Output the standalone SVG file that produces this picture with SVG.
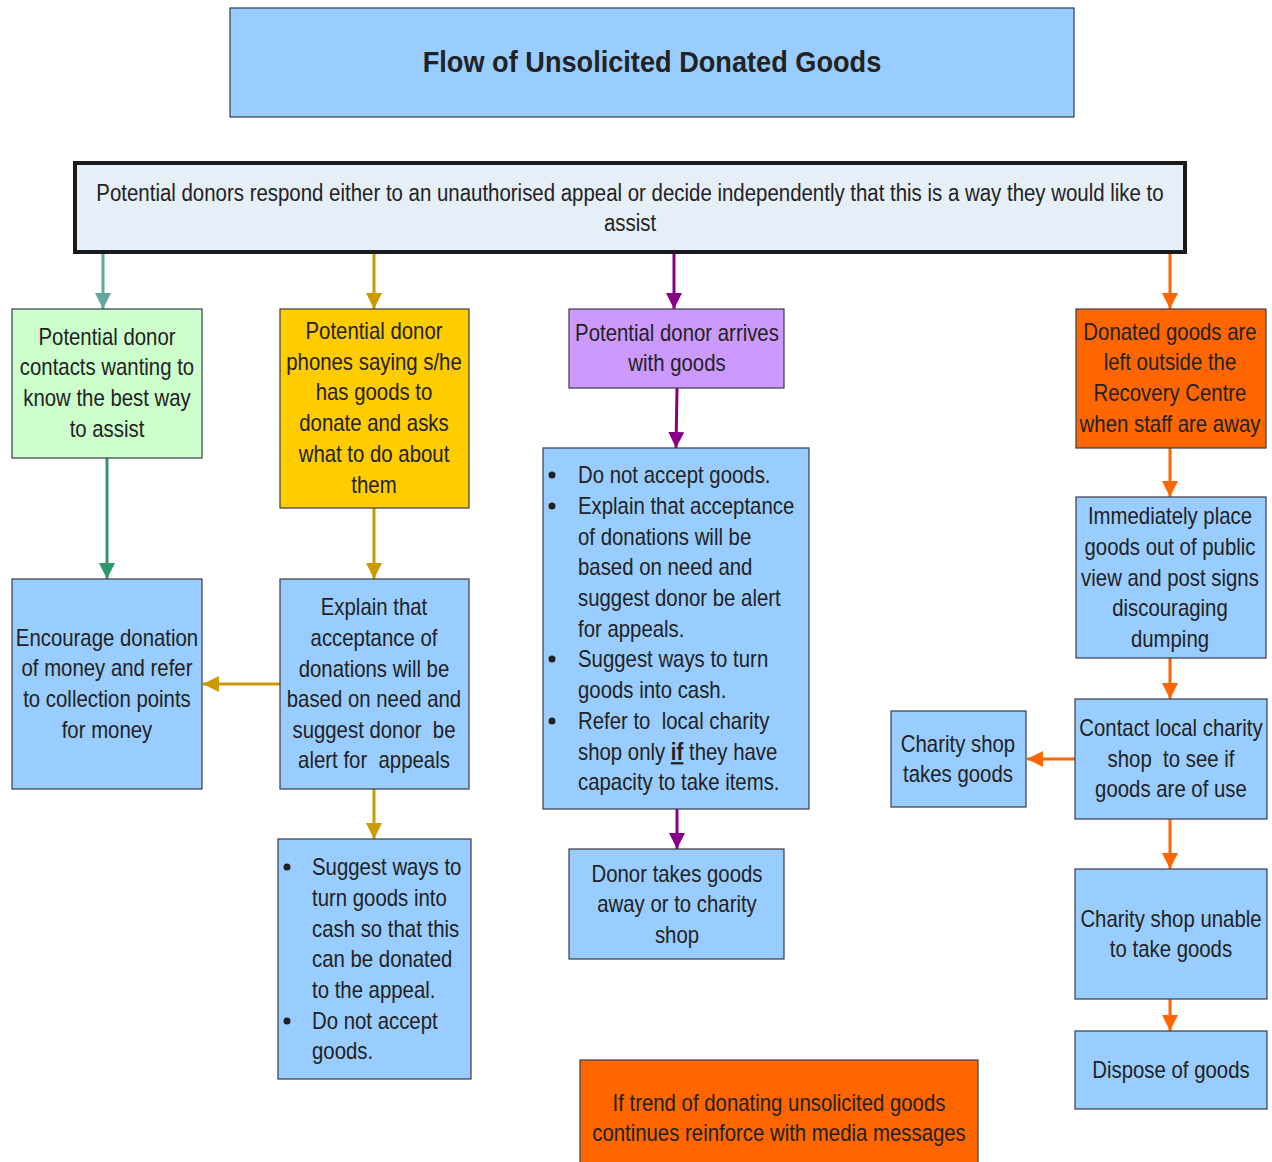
<svg xmlns="http://www.w3.org/2000/svg" width="1272" height="1162" viewBox="0 0 1272 1162">
<defs>
<style>
text{font-family:"Liberation Sans",Arial,sans-serif;font-size:23px;fill:#222;}
.c{text-anchor:middle;}
.box{stroke:#3a3a4a;stroke-width:1.2;}
.blue{fill:#99ccff;}
.ln{fill:none;stroke-width:3;}
</style>
<marker id="mTeal" viewBox="0 0 10 10" refX="10" refY="5" markerWidth="16" markerHeight="16" markerUnits="userSpaceOnUse" orient="auto"><path d="M0,0 L10,5 L0,10 z" fill="#5fa89a"/></marker>
<marker id="mGreen" viewBox="0 0 10 10" refX="10" refY="5" markerWidth="16" markerHeight="16" markerUnits="userSpaceOnUse" orient="auto"><path d="M0,0 L10,5 L0,10 z" fill="#2e9a6a"/></marker>
<marker id="mGold" viewBox="0 0 10 10" refX="10" refY="5" markerWidth="16" markerHeight="16" markerUnits="userSpaceOnUse" orient="auto"><path d="M0,0 L10,5 L0,10 z" fill="#cc9900"/></marker>
<marker id="mPurp" viewBox="0 0 10 10" refX="10" refY="5" markerWidth="16" markerHeight="16" markerUnits="userSpaceOnUse" orient="auto"><path d="M0,0 L10,5 L0,10 z" fill="#880088"/></marker>
<marker id="mOr" viewBox="0 0 10 10" refX="10" refY="5" markerWidth="16" markerHeight="16" markerUnits="userSpaceOnUse" orient="auto"><path d="M0,0 L10,5 L0,10 z" fill="#ff6600"/></marker>
</defs>
<rect width="1272" height="1162" fill="#ffffff"/>

<g id="connectors">
<line class="ln" x1="103" y1="252" x2="103" y2="309" stroke="#5fa89a" marker-end="url(#mTeal)"/>
<line class="ln" x1="374" y1="252" x2="374" y2="309" stroke="#cc9900" marker-end="url(#mGold)"/>
<line class="ln" x1="674" y1="252" x2="674" y2="309" stroke="#880088" marker-end="url(#mPurp)"/>
<line class="ln" x1="1170" y1="252" x2="1170" y2="309" stroke="#ff6600" marker-end="url(#mOr)"/>
<line class="ln" x1="107" y1="458" x2="107" y2="579" stroke="#2e9a6a" marker-end="url(#mGreen)"/>
<line class="ln" x1="374" y1="508" x2="374" y2="579" stroke="#cc9900" marker-end="url(#mGold)"/>
<line class="ln" x1="280" y1="684" x2="203" y2="684" stroke="#cc9900" stroke-width="4" marker-end="url(#mGold)"/>
<line class="ln" x1="374" y1="789" x2="374" y2="839" stroke="#cc9900" marker-end="url(#mGold)"/>
<line class="ln" x1="677" y1="388" x2="676" y2="448" stroke="#880088" marker-end="url(#mPurp)"/>
<line class="ln" x1="677" y1="809" x2="677" y2="849" stroke="#880088" marker-end="url(#mPurp)"/>
<line class="ln" x1="1170" y1="448" x2="1170" y2="497" stroke="#ff6600" marker-end="url(#mOr)"/>
<line class="ln" x1="1170" y1="658" x2="1170" y2="699" stroke="#ff6600" marker-end="url(#mOr)"/>
<line class="ln" x1="1075" y1="759" x2="1027" y2="759" stroke="#ff6600" stroke-width="4" marker-end="url(#mOr)"/>
<line class="ln" x1="1170" y1="819" x2="1170" y2="869" stroke="#ff6600" marker-end="url(#mOr)"/>
<line class="ln" x1="1170" y1="999" x2="1170" y2="1031" stroke="#ff6600" marker-end="url(#mOr)"/>
</g>

<g id="title">
<rect class="box blue" x="230" y="8" width="844" height="109" stroke="#666"/>
<g transform="translate(652 0) scale(0.905 1) translate(-652 0)">
<text class="c" x="652" y="72" style="font-size:30px;font-weight:bold">Flow of Unsolicited Donated Goods</text>
</g>
</g>

<g id="top">
<rect x="75" y="163" width="1110" height="89" fill="#e6eef8" stroke="#1a1a1a" stroke-width="4"/>
<g transform="translate(630 0) scale(0.888 1) translate(-630 0)">
<text class="c" x="630" y="201">Potential donors respond either to an unauthorised appeal or decide independently that this is a way they would like to</text>
<text class="c" x="630" y="231">assist</text>
</g>
</g>

<g id="green">
<rect class="box" x="12" y="309" width="190" height="149" fill="#ccffcc"/>
<g transform="translate(107 0) scale(0.886 1) translate(-107 0)">
<text class="c" x="107" y="345">Potential donor</text>
<text class="c" x="107" y="375">contacts wanting to</text>
<text class="c" x="107" y="406">know the best way</text>
<text class="c" x="107" y="437">to assist</text>
</g>
</g>

<g id="yellow">
<rect class="box" x="280" y="309" width="189" height="199" fill="#ffcc00"/>
<g transform="translate(374 0) scale(0.886 1) translate(-374 0)">
<text class="c" x="374" y="339">Potential donor</text>
<text class="c" x="374" y="370">phones saying s/he</text>
<text class="c" x="374" y="400">has goods to</text>
<text class="c" x="374" y="431">donate and asks</text>
<text class="c" x="374" y="462">what to do about</text>
<text class="c" x="374" y="493">them</text>
</g>
</g>

<g id="purple">
<rect class="box" x="569" y="309" width="215" height="79" fill="#cc99ff"/>
<g transform="translate(677 0) scale(0.886 1) translate(-677 0)">
<text class="c" x="677" y="341">Potential donor arrives</text>
<text class="c" x="677" y="371">with goods</text>
</g>
</g>

<g id="orange">
<rect class="box" x="1076" y="309" width="190" height="139" fill="#ff6600"/>
<g transform="translate(1170 0) scale(0.886 1) translate(-1170 0)">
<text class="c" x="1170" y="340">Donated goods are</text>
<text class="c" x="1170" y="370">left outside the</text>
<text class="c" x="1170" y="401">Recovery Centre</text>
<text class="c" x="1170" y="432">when staff are away</text>
</g>
</g>

<g id="encourage">
<rect class="box blue" x="12" y="579" width="190" height="210"/>
<g transform="translate(107 0) scale(0.886 1) translate(-107 0)">
<text class="c" x="107" y="646">Encourage donation</text>
<text class="c" x="107" y="676">of money and refer</text>
<text class="c" x="107" y="707">to collection points</text>
<text class="c" x="107" y="738">for money</text>
</g>
</g>

<g id="explain">
<rect class="box blue" x="280" y="579" width="189" height="210"/>
<g transform="translate(374 0) scale(0.886 1) translate(-374 0)">
<text class="c" x="374" y="615">Explain that</text>
<text class="c" x="374" y="646">acceptance of</text>
<text class="c" x="374" y="677">donations will be</text>
<text class="c" x="374" y="707">based on need and</text>
<text class="c" x="374" y="738" xml:space="preserve">suggest donor  be</text>
<text class="c" x="374" y="768" xml:space="preserve">alert for  appeals</text>
</g>
</g>

<g id="suggest">
<rect class="box blue" x="278" y="839" width="193" height="240"/>
<circle cx="287" cy="867" r="3.5" fill="#222"/>
<circle cx="287" cy="1021" r="3.5" fill="#222"/>
<g transform="translate(312 0) scale(0.886 1) translate(-312 0)">
<text x="312" y="875">Suggest ways to</text>
<text x="312" y="906">turn goods into</text>
<text x="312" y="937">cash so that this</text>
<text x="312" y="967">can be donated</text>
<text x="312" y="998">to the appeal.</text>
<text x="312" y="1029">Do not accept</text>
<text x="312" y="1059">goods.</text>
</g>
</g>

<g id="arrives-actions">
<rect class="box blue" x="543" y="448" width="266" height="361"/>
<circle cx="552" cy="475" r="3.5" fill="#222"/>
<circle cx="552" cy="506" r="3.5" fill="#222"/>
<circle cx="552" cy="659" r="3.5" fill="#222"/>
<circle cx="552" cy="721" r="3.5" fill="#222"/>
<g transform="translate(578 0) scale(0.886 1) translate(-578 0)">
<text x="578" y="483">Do not accept goods.</text>
<text x="578" y="514">Explain that acceptance</text>
<text x="578" y="545">of donations will be</text>
<text x="578" y="575">based on need and</text>
<text x="578" y="606">suggest donor be alert</text>
<text x="578" y="637">for appeals.</text>
<text x="578" y="667">Suggest ways to turn</text>
<text x="578" y="698">goods into cash.</text>
<text x="578" y="729" xml:space="preserve">Refer to  local charity</text>
<text x="578" y="760">shop only <tspan font-weight="bold" text-decoration="underline">if</tspan> they have</text>
<text x="578" y="790">capacity to take items.</text>
</g>
</g>

<g id="donor-takes">
<rect class="box blue" x="569" y="849" width="215" height="110"/>
<g transform="translate(677 0) scale(0.886 1) translate(-677 0)">
<text class="c" x="677" y="882">Donor takes goods</text>
<text class="c" x="677" y="912">away or to charity</text>
<text class="c" x="677" y="943">shop</text>
</g>
</g>

<g id="immediately">
<rect class="box blue" x="1076" y="497" width="190" height="161"/>
<g transform="translate(1170 0) scale(0.886 1) translate(-1170 0)">
<text class="c" x="1170" y="524">Immediately place</text>
<text class="c" x="1170" y="555">goods out of public</text>
<text class="c" x="1170" y="586">view and post signs</text>
<text class="c" x="1170" y="616">discouraging</text>
<text class="c" x="1170" y="647">dumping</text>
</g>
</g>

<g id="contact">
<rect class="box blue" x="1075" y="699" width="192" height="120"/>
<g transform="translate(1171 0) scale(0.886 1) translate(-1171 0)">
<text class="c" x="1171" y="736">Contact local charity</text>
<text class="c" x="1171" y="767" xml:space="preserve">shop  to see if</text>
<text class="c" x="1171" y="797">goods are of use</text>
</g>
</g>

<g id="shop-takes">
<rect class="box blue" x="891" y="711" width="135" height="96"/>
<g transform="translate(958 0) scale(0.886 1) translate(-958 0)">
<text class="c" x="958" y="752">Charity shop</text>
<text class="c" x="958" y="782">takes goods</text>
</g>
</g>

<g id="unable">
<rect class="box blue" x="1075" y="869" width="192" height="130"/>
<g transform="translate(1171 0) scale(0.886 1) translate(-1171 0)">
<text class="c" x="1171" y="927">Charity shop unable</text>
<text class="c" x="1171" y="957">to take goods</text>
</g>
</g>

<g id="dispose">
<rect class="box blue" x="1075" y="1031" width="192" height="78"/>
<g transform="translate(1171 0) scale(0.886 1) translate(-1171 0)">
<text class="c" x="1171" y="1078">Dispose of goods</text>
</g>
</g>

<g id="trend">
<rect class="box" x="580" y="1060" width="398" height="110" fill="#ff6600" stroke="#8a4a2a"/>
<g transform="translate(779 0) scale(0.886 1) translate(-779 0)">
<text class="c" x="779" y="1111">If trend of donating unsolicited goods</text>
<text class="c" x="779" y="1141">continues reinforce with media messages</text>
</g>
</g>
</svg>
